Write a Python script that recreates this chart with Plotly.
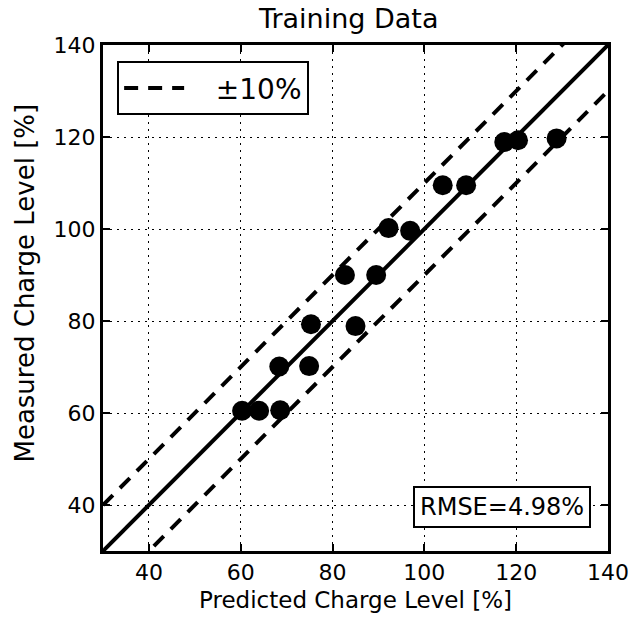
import plotly.graph_objects as go

# Data
predicted = [60.3, 64.0, 68.6, 68.4, 74.9, 75.3, 85.0, 82.7, 89.5, 92.2, 96.9, 104.0, 109.1, 117.4, 120.4, 128.8]
measured = [60.5, 60.5, 60.6, 70.1, 70.2, 79.3, 78.9, 90.0, 90.0, 100.2, 99.6, 109.5, 109.5, 118.9, 119.3, 119.7]
line_x = [30, 140]
band_offset = 10
rmse_text = "RMSE=4.98%"
ticks = [40, 60, 80, 100, 120, 140]

FONT = "DejaVu Sans"

fig = go.Figure()
fig.add_trace(go.Scatter(x=line_x, y=line_x, mode="lines",
                         line=dict(color="black", width=4), showlegend=False))
fig.add_trace(go.Scatter(x=line_x, y=[v + band_offset for v in line_x], mode="lines",
                         line=dict(color="black", width=4, dash="14px,10px"),
                         name="   ±10%", showlegend=True))
fig.add_trace(go.Scatter(x=line_x, y=[v - band_offset for v in line_x], mode="lines",
                         line=dict(color="black", width=4, dash="14px,10px"),
                         showlegend=False))
fig.add_trace(go.Scatter(x=predicted, y=measured, mode="markers",
                         marker=dict(color="black", size=20), showlegend=False))

axis_common = dict(
    range=[30, 140], tickvals=ticks, showline=True, linecolor="black", linewidth=3,
    mirror="ticks", ticks="inside", ticklen=7, tickwidth=1.5, tickcolor="black",
    showgrid=True, gridcolor="black", griddash="2px,5px", gridwidth=1, zeroline=False,
    automargin=False,
    tickfont=dict(family=FONT, size=22, color="black"),
)

fig.update_layout(
    width=634, height=622,
    margin=dict(l=103, r=26, t=45, b=71),
    paper_bgcolor="white", plot_bgcolor="white",
    title=dict(text="Training Data", x=0.55, xanchor="center", y=0.985, yanchor="top",
               font=dict(family=FONT, size=27, color="black")),
    xaxis=dict(axis_common, title=dict(text="Predicted Charge Level [%]", standoff=8,
                                       font=dict(family=FONT, size=23, color="black"))),
    yaxis=dict(axis_common),
    legend=dict(x=0.028, y=0.968, xanchor="left", yanchor="top",
                bgcolor="white", bordercolor="black", borderwidth=2,
                font=dict(family=FONT, size=28, color="black"), itemwidth=60),
    showlegend=True,
    annotations=[
        dict(text=rmse_text, xref="paper", yref="paper", x=0.966, y=0.045,
             xanchor="right", yanchor="bottom", showarrow=False,
             font=dict(family=FONT, size=24, color="black"),
             bgcolor="white", bordercolor="black", borderwidth=2, borderpad=5),
        dict(text="Measured Charge Level [%]", xref="paper", yref="paper",
             x=-0.155, y=0.53, xanchor="center", yanchor="middle", textangle=-90,
             showarrow=False, font=dict(family=FONT, size=26, color="black")),
    ],
)

fig.write_html("out.html")
